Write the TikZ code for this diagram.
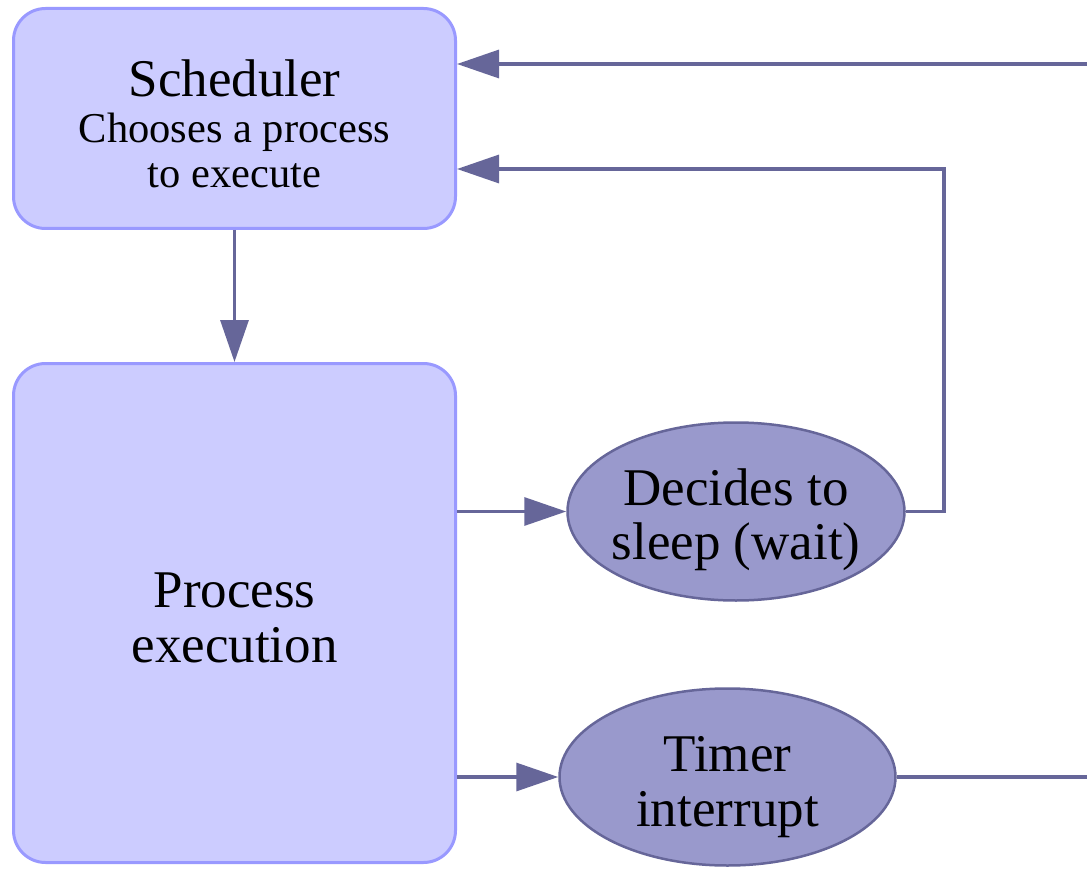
\documentclass[tikz,border=0pt]{standalone}
\usepackage{fontspec}
\setmainfont{Liberation Serif}
\usetikzlibrary{arrows.meta,shapes.geometric}
\definecolor{boxfill}{HTML}{CCCCFF}
\definecolor{boxline}{HTML}{9999FF}
\definecolor{ellfill}{HTML}{9999CC}
\definecolor{ellline}{HTML}{666699}
\definecolor{conn}{HTML}{666699}
\tikzset{
  procbox/.style={draw=boxline, fill=boxfill, line width=3pt, rounded corners=32pt,
    inner sep=0pt, align=center, font=\fontsize{53}{54.5}\selectfont},
  evell/.style={ellipse, draw=ellline, fill=ellfill, line width=2.5pt,
    inner xsep=-14pt, inner ysep=0pt, align=center, font=\fontsize{53}{54.5}\selectfont},
  flow/.style={draw=conn, line width=3.2pt,
    -{Triangle[length=42pt,width=28pt]}},
}
\newcommand{\subfont}{\fontsize{42.5}{45}\selectfont}
\begin{document}
\begin{tikzpicture}[x=1pt,y=-1pt]
\useasboundingbox (0,0) rectangle (1087,869);
\clip (0,0) rectangle (1087,869);

\node[procbox, minimum width=442pt, minimum height=220pt,
      text height=151pt, text depth=12pt] (sched) at (234.5,118.5)
  {Scheduler\\[-8.5pt]\subfont Chooses a process\\[-9.5pt]\subfont to execute};

\node[procbox, minimum width=442pt, minimum height=499pt,
      text height=110pt, text depth=12pt] (proc) at (234.5,613)
  {Process\\execution};

\node[evell, minimum width=337pt, minimum height=178pt,
      text height=108pt, text depth=12pt] (sleep) at (736,511.5)
  {Decides to\\sleep (wait)};

\node[evell, minimum width=336pt, minimum height=177pt,
      text height=110pt, text depth=12pt] (timer) at (727.5,777)
  {Timer\\interrupt};

\coordinate (k1) at (944,169);
\coordinate (k2) at (1100,777);
\coordinate (k3) at (1100,64);

\draw[flow] (sched.south) -- (proc.north);
\draw[flow] (proc.east |- sleep.west) -- (sleep.west);
\draw[flow] (proc.east |- timer.west) -- (timer.west);
\draw[flow] (sleep.east) -| (k1) -- ([yshift=-50.5pt]sched.east);
\draw[flow] (timer.east) -- (k2) -- (k3) -- ([yshift=54.5pt]sched.east);
\end{tikzpicture}
\end{document}
